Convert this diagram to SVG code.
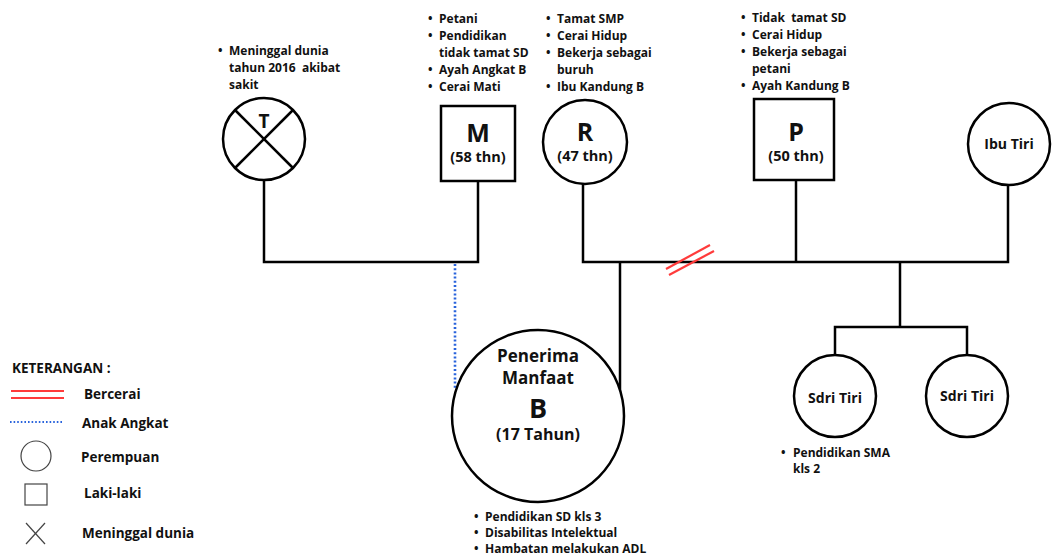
<svg xmlns="http://www.w3.org/2000/svg" width="1054" height="556" viewBox="0 0 1054 556">
<style>
text{font-family:"Open Sans","Noto Sans","Liberation Sans",sans-serif;font-weight:700;fill:#111;white-space:pre}
.n{fill:#fff;stroke:#000;stroke-width:2.5}
.c{fill:none;stroke:#000;stroke-width:2.5}
.lst{font-size:12px}
.lg{font-size:13.5px}
.mid{text-anchor:middle}
.leg{fill:none;stroke:#444;stroke-width:1.2}
</style>
<rect width="1054" height="556" fill="#fff"/>
<g id="connectors">
<polyline class="c" points="264,180 264,262 478,262 478,181"/>
<polyline class="c" points="583,184 583,262 1008,262 1008,186"/>
<line class="c" x1="796" y1="180" x2="796" y2="262"/>
<line class="c" x1="620" y1="262" x2="620" y2="392"/>
<polyline class="c" points="900,262 900,327"/>
<polyline class="c" points="835,355 835,327 967,327 967,355"/>
<line x1="455" y1="264" x2="455" y2="390" stroke="#2a64dc" stroke-width="2.6" stroke-dasharray="2,2.2"/>
<line x1="666" y1="269" x2="710" y2="245" stroke="#ff3b3b" stroke-width="2.2"/>
<line x1="669" y1="275" x2="714" y2="251" stroke="#ff3b3b" stroke-width="2.2"/>
</g>
<g id="node-T">
<circle class="n" cx="264" cy="139" r="41"/>
<line class="c" x1="235" y1="110" x2="293" y2="168"/>
<line class="c" x1="293" y1="110" x2="235" y2="168"/>
<text class="mid" x="264" y="128" font-size="19">T</text>
<text class="lst" x="218" y="55">•</text><text class="lst" x="229" y="55">Meninggal dunia</text>
<text class="lst" x="229" y="72">tahun 2016  akibat</text>
<text class="lst" x="229" y="89">sakit</text>
</g>
<g id="node-M">
<rect class="n" x="441" y="106" width="74" height="75"/>
<text class="mid" x="478" y="142" font-size="25">M</text>
<text class="mid" x="478" y="162" font-size="14.5">(58 thn)</text>
<text class="lst" x="428" y="23">•</text><text class="lst" x="439" y="23">Petani</text>
<text class="lst" x="428" y="40">•</text><text class="lst" x="439" y="40">Pendidikan</text>
<text class="lst" x="439" y="57">tidak tamat SD</text>
<text class="lst" x="428" y="74">•</text><text class="lst" x="439" y="74">Ayah Angkat B</text>
<text class="lst" x="428" y="91">•</text><text class="lst" x="439" y="91">Cerai Mati</text>
</g>
<g id="node-R">
<circle class="n" cx="585" cy="142" r="42"/>
<text class="mid" x="585" y="141" font-size="25">R</text>
<text class="mid" x="585" y="161" font-size="14.5">(47 thn)</text>
<text class="lst" x="546" y="23">•</text><text class="lst" x="557" y="23">Tamat SMP</text>
<text class="lst" x="546" y="40">•</text><text class="lst" x="557" y="40">Cerai Hidup</text>
<text class="lst" x="546" y="57">•</text><text class="lst" x="557" y="57">Bekerja sebagai</text>
<text class="lst" x="557" y="74">buruh</text>
<text class="lst" x="546" y="91">•</text><text class="lst" x="557" y="91">Ibu Kandung B</text>
</g>
<g id="node-P">
<rect class="n" x="754" y="99" width="80" height="81"/>
<text class="mid" x="796" y="141" font-size="25">P</text>
<text class="mid" x="796" y="161" font-size="14.5">(50 thn)</text>
<text class="lst" x="741" y="22">•</text><text class="lst" x="752" y="22">Tidak  tamat SD</text>
<text class="lst" x="741" y="39">•</text><text class="lst" x="752" y="39">Cerai Hidup</text>
<text class="lst" x="741" y="56">•</text><text class="lst" x="752" y="56">Bekerja sebagai</text>
<text class="lst" x="752" y="73">petani</text>
<text class="lst" x="741" y="90">•</text><text class="lst" x="752" y="90">Ayah Kandung B</text>
</g>
<g id="node-IbuTiri">
<circle class="n" cx="1009" cy="144" r="41"/>
<text class="mid" x="1009" y="149" font-size="14">Ibu Tiri</text>
</g>
<g id="node-B">
<circle class="n" cx="538" cy="416" r="86"/>
<text class="mid" x="538" y="362" font-size="17">Penerima</text>
<text class="mid" x="538" y="384" font-size="17">Manfaat</text>
<text class="mid" x="538" y="418" font-size="27">B</text>
<text class="mid" x="538" y="440" font-size="16">(17 Tahun)</text>
<text class="lst" x="474" y="521">•</text><text class="lst" x="485" y="521">Pendidikan SD kls 3</text>
<text class="lst" x="474" y="537">•</text><text class="lst" x="485" y="537">Disabilitas Intelektual</text>
<text class="lst" x="474" y="553">•</text><text class="lst" x="485" y="553">Hambatan melakukan ADL</text>
</g>
<g id="node-SdriTiri1">
<circle class="n" cx="835" cy="396" r="41"/>
<text class="mid" x="835" y="403" font-size="14">Sdri Tiri</text>
<text class="lst" x="781" y="457">•</text><text class="lst" x="793" y="457">Pendidikan SMA</text>
<text class="lst" x="793" y="473">kls 2</text>
</g>
<g id="node-SdriTiri2">
<circle class="n" cx="967" cy="396" r="41"/>
<text class="mid" x="967" y="401" font-size="14">Sdri Tiri</text>
</g>
<g id="legend">
<text class="lg" x="12" y="373">KETERANGAN :</text>
<line x1="11" y1="391" x2="64" y2="391" stroke="#ff3b3b" stroke-width="1.8"/>
<line x1="11" y1="398" x2="64" y2="398" stroke="#ff3b3b" stroke-width="1.8"/>
<text class="lg" x="84" y="399">Bercerai</text>
<line x1="10" y1="422" x2="62" y2="422" stroke="#2a64dc" stroke-width="2.2" stroke-dasharray="1.6,2"/>
<text class="lg" x="82" y="428">Anak Angkat</text>
<circle class="leg" cx="36" cy="456" r="15"/>
<text class="lg" x="81" y="462">Perempuan</text>
<rect class="leg" x="25" y="484" width="22" height="21"/>
<text class="lg" x="84" y="498">Laki-laki</text>
<line class="leg" x1="26" y1="523" x2="45" y2="544"/>
<line class="leg" x1="45" y1="523" x2="26" y2="544"/>
<text class="lg" x="82" y="538">Meninggal dunia</text>
</g>
</svg>
